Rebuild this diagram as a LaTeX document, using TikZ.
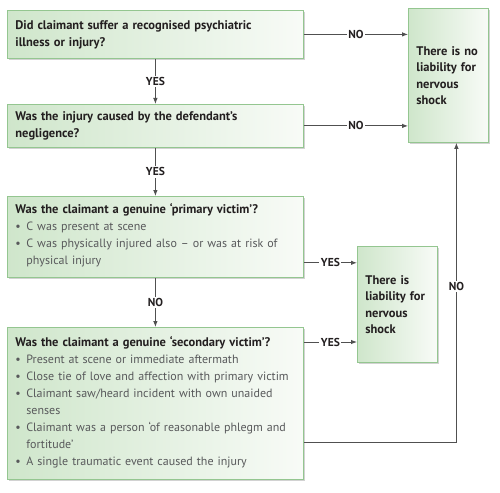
\documentclass[tikz,border=0pt]{standalone}
\usepackage{fontspec}
\setmainfont{PT Sans}
\usetikzlibrary{arrows.meta,positioning,calc,shadows}
\definecolor{lgreen}{HTML}{CFE6CB}
\definecolor{lwhite}{HTML}{F8FBF7}
\definecolor{lborder}{HTML}{94C690}
\definecolor{ltext}{HTML}{231F20}
\definecolor{lgray}{HTML}{58595B}
\definecolor{lline}{HTML}{505050}
\setlength{\normallineskip}{0pt}
\newcommand{\bul}[1]{\par\noindent\makebox[11pt][l]{\textbullet}\parbox[t]{268pt}{\strut#1\strut}}
\newcommand{\hd}[1]{{\fontsize{12.5}{17}\selectfont\bfseries #1}}
\tikzset{
  qbox/.style={draw=lborder, line width=0.8pt, left color=lgreen, right color=lwhite,
    anchor=north west, align=left, inner xsep=8pt, inner ysep=3pt, text=ltext,
    font=\fontsize{12}{17}\selectfont,
    drop shadow={shadow xshift=2pt, shadow yshift=-2pt, opacity=0.25, fill=black!70}},
  ebox/.style={qbox, text width=64pt, font=\fontsize{12.5}{16.5}\selectfont\bfseries},
  lbl/.style={fill=white, inner sep=1.5pt, font=\fontsize{11.5}{13}\selectfont\bfseries, text=ltext},
  arr/.style={-{Latex[length=6pt, width=4.5pt]}, line width=0.9pt, lline},
}

\begin{document}
\begin{tikzpicture}[x=1pt, y=-1pt]
  \useasboundingbox (0,0) rectangle (500,492);
  \node[qbox, text width=280pt, minimum height=48pt] (q1) at (7,10)
    {\hd{Did claimant suffer a recognised psychiatric\\ illness or injury?}};
  \node[qbox, text width=280pt, minimum height=43pt] (q2) at (7,104)
    {\hd{Was the injury caused by the defendant’s\\ negligence?}};
  \node[qbox, text width=280pt, minimum height=81pt] (q3) at (7,196)
    {\hd{Was the claimant a genuine ‘primary victim’?}\color{lgray}
     \bul{C was present at scene}
     \bul{C was physically injured also – or was at risk of physical injury}};
  \node[qbox, text width=280pt, minimum height=152pt] (q4) at (7,327)
    {\hd{Was the claimant a genuine ‘secondary victim’?}\color{lgray}
     \bul{Present at scene or immediate aftermath}
     \bul{Close tie of love and affection with primary victim}
     \bul{Claimant saw/heard incident with own unaided senses}
     \bul{Claimant was a person ‘of reasonable phlegm and fortitude’}
     \bul{A single traumatic event caused the injury}};
  \node[ebox, minimum height=134pt] (noliab) at (408,8)
    {There is no\\ liability for\\ nervous\\ shock};
  \node[ebox, minimum height=116pt] (liab) at (357,246)
    {There is\\ liability for\\ nervous\\ shock};

  \draw[arr] (q1.south) -- node[lbl] {YES} (q2.north);
  \draw[arr] (q2.south) -- node[lbl] {YES} (q3.north);
  \draw[arr] (q3.south) -- node[lbl] {NO} (q4.north);
  \draw[arr] (q1.east) -- node[lbl] {NO} (q1.east -| noliab.west);
  \draw[arr] (q2.east) -- node[lbl] {NO} (q2.east -| noliab.west);
  \draw[arr] ([yshift=15pt]q3.south east) -- node[lbl] {YES} ([yshift=15pt]q3.south east -| liab.west);
  \draw[arr] ([yshift=-15pt]q4.north east) -- node[lbl] {YES} ([yshift=-15pt]q4.north east -| liab.west);
  \draw[arr] ([yshift=37pt]q4.south east) -| node[lbl, pos=0.76] {NO} ([xshift=8pt]noliab.south);
\end{tikzpicture}
\end{document}
